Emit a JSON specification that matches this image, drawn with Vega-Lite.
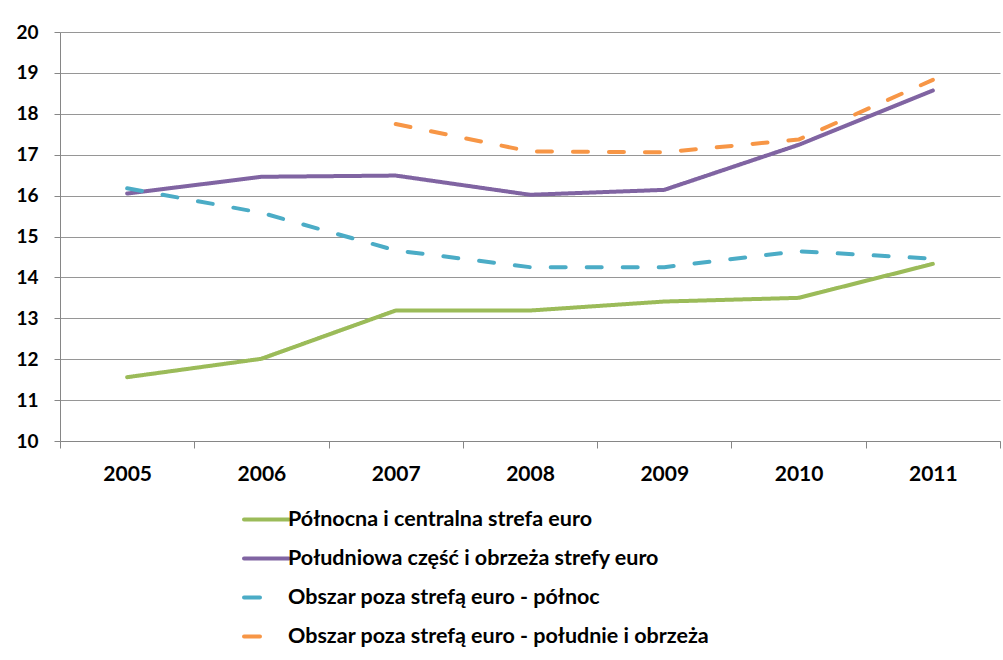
{
  "$schema": "https://vega.github.io/schema/vega-lite/v6.json",
  "width": 940,
  "height": 409,
  "autosize": "none",
  "padding": {"left": 60, "top": 32, "right": 3, "bottom": 219},
  "background": "white",
  "config": {
    "font": "Lato",
    "view": {"stroke": null}
  },
  "data": {
    "values": [
      {"rok": "2005", "seria": "Północna i centralna strefa euro", "wartosc": 11.56},
      {"rok": "2006", "seria": "Północna i centralna strefa euro", "wartosc": 12.01},
      {"rok": "2007", "seria": "Północna i centralna strefa euro", "wartosc": 13.19},
      {"rok": "2008", "seria": "Północna i centralna strefa euro", "wartosc": 13.19},
      {"rok": "2009", "seria": "Północna i centralna strefa euro", "wartosc": 13.41},
      {"rok": "2010", "seria": "Północna i centralna strefa euro", "wartosc": 13.5},
      {"rok": "2011", "seria": "Północna i centralna strefa euro", "wartosc": 14.33},
      {"rok": "2005", "seria": "Południowa część i obrzeża strefy euro", "wartosc": 16.05},
      {"rok": "2006", "seria": "Południowa część i obrzeża strefy euro", "wartosc": 16.46},
      {"rok": "2007", "seria": "Południowa część i obrzeża strefy euro", "wartosc": 16.49},
      {"rok": "2008", "seria": "Południowa część i obrzeża strefy euro", "wartosc": 16.02},
      {"rok": "2009", "seria": "Południowa część i obrzeża strefy euro", "wartosc": 16.14},
      {"rok": "2010", "seria": "Południowa część i obrzeża strefy euro", "wartosc": 17.24},
      {"rok": "2011", "seria": "Południowa część i obrzeża strefy euro", "wartosc": 18.57},
      {"rok": "2005", "seria": "Obszar poza strefą euro - północ", "wartosc": 16.18},
      {"rok": "2006", "seria": "Obszar poza strefą euro - północ", "wartosc": 15.58},
      {"rok": "2007", "seria": "Obszar poza strefą euro - północ", "wartosc": 14.66},
      {"rok": "2008", "seria": "Obszar poza strefą euro - północ", "wartosc": 14.25},
      {"rok": "2009", "seria": "Obszar poza strefą euro - północ", "wartosc": 14.25},
      {"rok": "2010", "seria": "Obszar poza strefą euro - północ", "wartosc": 14.64},
      {"rok": "2011", "seria": "Obszar poza strefą euro - północ", "wartosc": 14.46},
      {"rok": "2007", "seria": "Obszar poza strefą euro - południe i obrzeża", "wartosc": 17.75},
      {"rok": "2008", "seria": "Obszar poza strefą euro - południe i obrzeża", "wartosc": 17.08},
      {"rok": "2009", "seria": "Obszar poza strefą euro - południe i obrzeża", "wartosc": 17.06},
      {"rok": "2010", "seria": "Obszar poza strefą euro - południe i obrzeża", "wartosc": 17.37},
      {"rok": "2011", "seria": "Obszar poza strefą euro - południe i obrzeża", "wartosc": 18.83}
    ]
  },
  "mark": {"type": "line", "strokeWidth": 4, "strokeCap": "round", "strokeJoin": "round"},
  "encoding": {
    "x": {
      "field": "rok",
      "type": "ordinal",
      "scale": {"type": "band", "paddingInner": 0, "paddingOuter": 0},
      "axis": {
        "title": null,
        "labelAngle": 0,
        "tickBand": "extent",
        "tickSize": 7,
        "tickColor": "#868686",
        "domainColor": "#868686",
        "labelFontSize": 21,
        "labelFontWeight": "bold",
        "labelColor": "black",
        "labelPadding": 15,
        "grid": false
      }
    },
    "y": {
      "field": "wartosc",
      "type": "quantitative",
      "scale": {"domain": [10, 20], "nice": false, "zero": false},
      "axis": {
        "title": null,
        "values": [10, 11, 12, 13, 14, 15, 16, 17, 18, 19, 20],
        "tickSize": 6,
        "tickColor": "#868686",
        "domainColor": "#868686",
        "gridColor": "#969696",
        "gridWidth": 1,
        "labelFontSize": 19,
        "labelFontWeight": "bold",
        "labelColor": "black",
        "labelPadding": 16
      }
    },
    "color": {
      "field": "seria",
      "type": "nominal",
      "sort": null,
      "scale": {
        "domain": ["Północna i centralna strefa euro", "Południowa część i obrzeża strefy euro", "Obszar poza strefą euro - północ", "Obszar poza strefą euro - południe i obrzeża"],
        "range": ["#9BBB59", "#8064A2", "#4BACC6", "#F79646"]
      },
      "legend": {
        "title": null,
        "orient": "none",
        "legendX": 182,
        "legendY": 463,
        "direction": "vertical",
        "symbolType": "stroke",
        "symbolSize": 2025,
        "symbolStrokeWidth": 4,
        "labelFontSize": 21.5,
        "labelFontWeight": "bold",
        "labelColor": "black",
        "labelLimit": 700,
        "labelOffset": -3,
        "rowPadding": 4,
        "encode": {
          "symbols": {
            "update": {
              "strokeDash": {"signal": "datum.index >= 2 ? [16, 60] : [1, 0]"},
              "strokeCap": {"value": "round"}
            }
          }
        }
      }
    },
    "strokeDash": {
      "condition": {"test": "indexof(datum.seria, 'Obszar') == 0", "value": [15, 21]},
      "value": [1, 0]
    }
  }
}
